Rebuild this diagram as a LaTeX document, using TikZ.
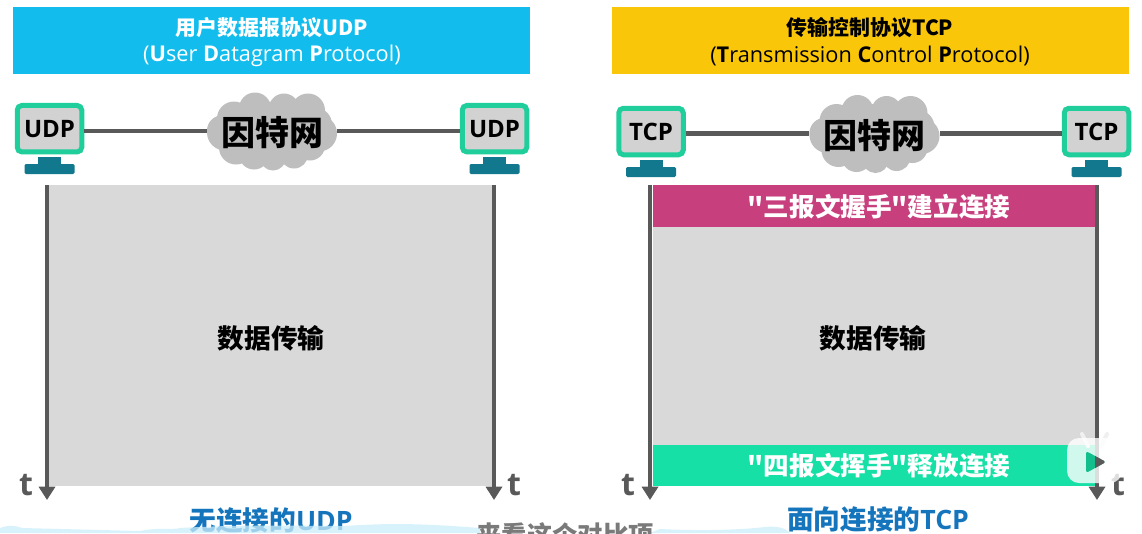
\documentclass[tikz,border=0pt]{standalone}
\usepackage{fontspec}
\setmainfont{Open Sans}
\newfontfamily\cjk{Noto Sans CJK SC}
\usetikzlibrary{arrows.meta}
\definecolor{hdrblue}{HTML}{12BDEE}
\definecolor{hdryellow}{HTML}{F9C60A}
\definecolor{pinkbar}{HTML}{C83F7E}
\definecolor{greenbar}{HTML}{16E0A6}
\definecolor{panelgray}{HTML}{D9D9D9}
\definecolor{monborder}{HTML}{1FCE9B}
\definecolor{screengray}{HTML}{D2D2D2}
\definecolor{standteal}{HTML}{12788E}
\definecolor{linegray}{HTML}{595959}
\definecolor{cloudgray}{HTML}{BEBEBE}
\definecolor{labelblue}{HTML}{1474BC}
\definecolor{bottomcloud}{HTML}{CCEEFB}
\newcommand{\fpx}[1]{\fontsize{#1}{#1}\selectfont}
\tikzset{
  x=0.75pt,y=-0.75pt,
  hdrbox/.style={draw=none,inner sep=0pt,minimum width=517*0.75pt,minimum height=67*0.75pt},
  monitor/.style={draw=monborder,fill=screengray,line width=3.75pt,rounded corners=3.5pt,minimum width=64.5*0.75pt,minimum height=46.5*0.75pt,inner sep=0pt,font=\fpx{18}\bfseries,outer sep=1.875pt},
  standpart/.style={fill=standteal,draw=none},
  netline/.style={draw=linegray,line width=3.5pt},
  timeline/.style={draw=linegray,line width=3pt,-{Triangle[width=12pt,length=10pt]}},
  cloudnode/.style={draw=none,inner sep=0pt,minimum width=130*0.75pt,minimum height=77*0.75pt,font=\cjk\fpx{25.5}\bfseries},
  barnode/.style={draw=none,inner sep=0pt,minimum width=442*0.75pt},
  bartext/.style={text=white,inner sep=0pt,font=\cjk\fpx{19.2}\bfseries},
  tlabel/.style={text=linegray,font=\fpx{24}\bfseries,inner sep=0pt},
  datatext/.style={font=\cjk\fpx{20}\bfseries,inner sep=0pt},
  caption/.style={text=labelblue,font=\fpx{20}\bfseries,inner sep=0pt},
}
\newcommand{\cloudshape}[2]{%
  \begin{scope}[shift={(#1,#2)}]
    \fill[cloudgray] (0,0) ellipse [x radius=52*0.75pt,y radius=30*0.75pt];
    \foreach \cx/\cy/\r in {-47/1/18,-38/-13/17,-17/-23/16,12/-23/15,36/-21/17,43/-7/17,47/2/18,38/14/15,-36/16/17,-18/23/15,1/26/13,22/23/14,-50/-1/15}
      \fill[cloudgray] (\cx,\cy) circle [radius=\r*0.75pt];
  \end{scope}}
\newcommand{\standshape}[2]{%
  \fill[standpart] (#1-11.5,#2) rectangle (#1+11.5,#2+8);
  \fill[standpart,rounded corners=1pt] (#1-25,#2+7) rectangle (#1+25,#2+17);}
\begin{document}
\begin{tikzpicture}
\clip (0,0) rectangle (1142,533);
\fill[white] (0,0) rectangle (1142,533);
% headers
\node[hdrbox,fill=hdrblue] (hu) at (271.5,40.5) {};
\node[text=white,inner sep=0pt,font=\cjk\fpx{15.7}\bfseries] (hu1) at (272,28) {用户数据报协议UDP};
\node[text=white,inner sep=0pt,font=\fpx{16.3}] (hu2) at (272,56) {(\textbf{U}ser \textbf{D}atagram \textbf{P}rotocol)};
\node[hdrbox,fill=hdryellow] (ht) at (870,40.5) {};
\node[inner sep=0pt,font=\cjk\fpx{15.7}\bfseries] (ht1) at (870,28) {传输控制协议TCP};
\node[inner sep=0pt,font=\fpx{16.3}] (ht2) at (870,56) {(\textbf{T}ransmission \textbf{C}ontrol \textbf{P}rotocol)};
% clouds
\cloudshape{272}{131.5}
\cloudshape{874.5}{134}
\node[cloudnode] (c1) at (272,133) {因特网};
\node[cloudnode] (c2) at (874.5,136) {因特网};
% monitors
\node[monitor] (m1) at (49.5,128.7) {UDP};
\node[monitor] (m2) at (494.5,128.7) {UDP};
\node[monitor] (m3) at (651,131.5) {TCP};
\node[monitor] (m4) at (1096.5,131.5) {TCP};
\standshape{49.5}{157}
\standshape{494.5}{157}
\standshape{651}{160}
\standshape{1096.5}{160}
% connectors
\coordinate (c1w) at (207,131);\coordinate (c1e) at (337,131);
\coordinate (c2w) at (809,133.7);\coordinate (c2e) at (940,133.7);
\draw[netline] (m1.east |- c1w) -- (c1w);
\draw[netline] (c1e) -- (m2.west |- c1e);
\draw[netline] (m3.east |- c2w) -- (c2w);
\draw[netline] (c2e) -- (m4.west |- c2e);
% panels
\fill[panelgray] (49,185) rectangle (492,486);
\fill[panelgray] (653,227) rectangle (1095,445);
\node[barnode,fill=pinkbar,minimum height=42*0.75pt] (b1) at (874,206) {};
\node[bartext] (b1t) at (879,206.5) {"三报文握手"建立连接};
\node[barnode,fill=greenbar,minimum height=41*0.75pt] (b2) at (874,465.5) {};
\node[bartext] (b2t) at (879,465.5) {"四报文挥手"释放连接};
\node[datatext] (d1) at (271,338) {数据传输};
\node[datatext] (d2) at (873,338) {数据传输};
% time axes
\coordinate (a1s) at (47,185);\coordinate (a1e) at (47,500);
\coordinate (a2s) at (494,185);\coordinate (a2e) at (494,500);
\coordinate (a3s) at (650,185);\coordinate (a3e) at (650,500);
\coordinate (a4s) at (1097,185);\coordinate (a4e) at (1097,500);
\draw[timeline] (a1s) -- (a1e);
\draw[timeline] (a2s) -- (a2e);
\draw[timeline] (a3s) -- (a3e);
\draw[timeline] (a4s) -- (a4e);
\node[tlabel] (t1) at (26,485) {t};
\node[tlabel] (t2) at (514,485) {t};
\node[tlabel] (t3) at (628,485) {t};
\node[tlabel] (t4) at (1118,485) {t};
% captions
\node[caption] (l1) at (271,521) {{\cjk 无连接的}UDP};
\node[caption] (l2) at (878,520) {{\cjk 面向连接的}TCP};
% bottom clouds
\fill[bottomcloud,opacity=.75] (0,533) -- (0,528) .. controls (8,525) and (14,525) .. (22,528) -- (140,531) .. controls (160,527) and (175,530) .. (180,528) .. controls (250,524) and (300,526) .. (345,526) .. controls (400,522) and (440,525) .. (480,528) -- (480,533) -- cycle;
\fill[bottomcloud,opacity=.75] (650,533) -- (660,529) .. controls (700,531) and (740,530) .. (765,527) .. controls (775,526) and (785,527) .. (790,533) -- cycle;
% subtitle
\node[text=linegray!80,inner sep=0pt,font=\cjk\fpx{19}\bfseries] (sub) at (565,535) {来看这个对比项};
% logo
\draw[panelgray!40!white,line width=3pt,line cap=round] (1088,446) -- (1082,434);
\draw[panelgray!40!white,line width=3pt,line cap=round] (1101,446) -- (1107,434);
\fill[white,opacity=.8,rounded corners=9pt] (1067,438) rectangle (1122,483);
\fill[greenbar!85!black,rounded corners=2pt] (1086,451) -- (1106,462) -- (1086,473) -- cycle;
\begin{scope}
\clip (1095,445) rectangle (1110,480);
\fill[linegray,rounded corners=2pt] (1086,451) -- (1106,462) -- (1086,473) -- cycle;
\end{scope}
\end{tikzpicture}
\end{document}
